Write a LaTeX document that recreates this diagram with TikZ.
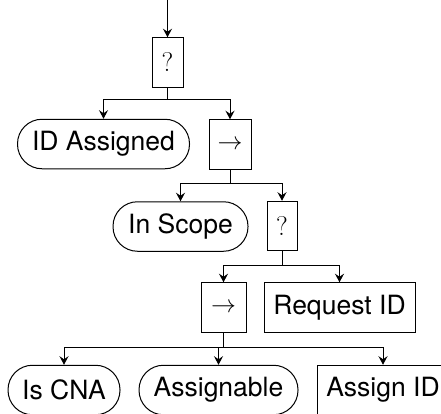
\documentclass[tikz,border=0pt]{standalone}
\usepackage{fontspec}
\setsansfont{TeX Gyre Heros}
\usetikzlibrary{arrows.meta}
\begin{document}
\begin{tikzpicture}[x=1pt,y=-1pt,
  lbl/.style={font=\fontsize{26.5}{30}\selectfont\sffamily},
  sym/.style={font=\fontsize{27}{30}\selectfont},
  box/.style={draw, line width=1pt, rectangle, inner sep=0pt, minimum height=49.5pt},
  cond/.style={draw, line width=1pt, rectangle, rounded corners=24.5pt, inner sep=0pt, minimum height=49.5pt},
  arr/.style={line width=1pt, -{Stealth[length=8.5pt,width=9pt,inset=3pt]}}]
\useasboundingbox (0,0) rectangle (441,413);
\clip (0,0) rectangle (441,413);
\coordinate (top) at (167.5,0);
\node[box, sym, minimum width=31pt] (q1) at (167.5,62.5) {?};
\node[cond, lbl, minimum width=172pt] (ida) at (103.5,144) {ID Assigned};
\node[box, sym, minimum width=42pt] (s1) at (230,144.5) {$\rightarrow$};
\node[cond, lbl, minimum width=135pt] (ins) at (180.5,226.5) {In Scope};
\node[box, sym, minimum width=30pt] (q2) at (282,226) {?};
\node[box, sym, minimum width=45pt] (s2) at (223.5,307.5) {$\rightarrow$};
\node[box, lbl, minimum width=151pt] (req) at (339.5,307.5) {Request ID};
\node[cond, lbl, minimum width=112pt] (cna) at (64,390) {Is CNA};
\node[cond, lbl, minimum width=159pt] (asg) at (218.5,390) {Assignable};
\node[box, lbl, minimum width=132pt] (aid) at (383,390) {Assign ID};
\coordinate (b1) at (0,99);
\coordinate (b2) at (0,183);
\coordinate (b3) at (0,265);
\coordinate (b4) at (0,347);
\draw[arr] (top) -- (q1.north);
\draw[arr] (q1.south) -- (q1.south |- b1) -| (ida.north);
\draw[arr] (q1.south) -- (q1.south |- b1) -| (s1.north);
\draw[arr] (s1.south) -- (s1.south |- b2) -| (ins.north);
\draw[arr] (s1.south) -- (s1.south |- b2) -| (q2.north);
\draw[arr] (q2.south) -- (q2.south |- b3) -| (s2.north);
\draw[arr] (q2.south) -- (q2.south |- b3) -| (req.north);
\draw[arr] (s2.south) -- (s2.south |- b4) -| (cna.north);
\draw[arr] (s2.south) -- (s2.south |- b4) -| (asg.north);
\draw[arr] (s2.south) -- (s2.south |- b4) -| (aid.north);
\end{tikzpicture}
\end{document}
